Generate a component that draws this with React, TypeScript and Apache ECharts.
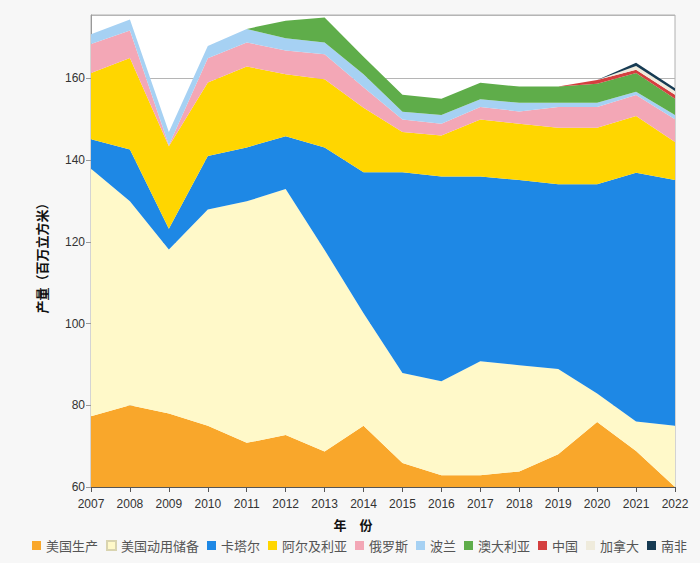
import React, { useEffect, useRef } from "react";
import * as echarts from "echarts";

const years = ["2007", "2008", "2009", "2010", "2011", "2012", "2013", "2014", "2015", "2016", "2017", "2018", "2019", "2020", "2021", "2022"];

const seriesNames = ["美国生产", "美国动用储备", "卡塔尔", "阿尔及利亚", "俄罗斯", "波兰", "澳大利亚", "中国", "加拿大", "南非"];

const usProduction = [77.3, 80.0, 78.0, 75.0, 70.8, 72.7, 68.7, 75.0, 65.9, 62.9, 62.9, 63.8, 68.0, 75.9, 68.8, 60.0];
const usReserve = [60.6, 49.9, 40.1, 52.9, 59.1, 60.2, 49.3, 27.5, 22.0, 23.0, 27.9, 26.0, 20.9, 7.0, 7.2, 15.0];
const qatar = [7.2, 12.7, 5.1, 13.1, 13.2, 12.9, 25.1, 34.5, 49.1, 50.1, 45.2, 45.3, 45.2, 51.2, 60.9, 60.1];
const algeria = [16.2, 22.4, 20.2, 18.0, 19.8, 15.2, 16.7, 15.8, 9.9, 10.0, 13.9, 13.8, 13.8, 13.8, 13.9, 9.3];
const russia = [7.1, 6.7, 0.2, 5.9, 5.9, 5.8, 6.1, 5.0, 3.0, 2.9, 3.1, 3.0, 5.1, 5.1, 5.1, 5.6];
const poland = [2.4, 2.7, 3.3, 3.0, 3.3, 3.0, 2.9, 3.2, 1.9, 2.1, 1.9, 2.1, 1.0, 1.0, 0.8, 1.0];
const australia = [0, 0, 0, 0, 0, 4.3, 6.1, 4.3, 4.2, 4.0, 4.0, 4.0, 4.0, 4.7, 4.6, 4.0];
const china = [0, 0, 0, 0, 0, 0, 0, 0, 0, 0, 0, 0, 0, 0.9, 0.8, 1.0];
const canada = [0, 0, 0, 0, 0, 0, 0, 0, 0, 0, 0, 0, 0, 0, 0.9, 0.9];
const southAfrica = [0, 0, 0, 0, 0, 0, 0, 0, 0, 0, 0, 0, 0, 0, 0.8, 0.7];

const yTicks = { min: 60, max: 175.5, interval: 20 };

const seriesData = [usProduction, usReserve, qatar, algeria, russia, poland, australia, china, canada, southAfrica];
const colors = ["#f9a72b", "#fff9c9", "#1e88e5", "#ffd600", "#f3a7b6", "#a6d1f3", "#5fad4a", "#d43f3f", "#efebdc", "#173b53"];

export default function App() {
  const ref = useRef<HTMLDivElement>(null);
  useEffect(() => {
    document.body.style.margin = "0";
    document.body.style.background = "#f7f7f7";
    const chart = echarts.init(ref.current as HTMLDivElement, null, { renderer: "svg" });
    chart.setOption({
      animation: false,
      backgroundColor: "#f7f7f7",
      textStyle: { fontFamily: "'Liberation Sans', 'Noto Sans CJK SC', sans-serif" },
      color: colors,
      grid: {
        left: 91,
        right: 25,
        top: 15,
        bottom: 76,
        show: true,
        backgroundColor: "#ffffff",
        borderColor: "#b0b0b0",
        borderWidth: 1,
      },
      legend: {
        data: seriesNames,
        left: 27,
        top: 534,
        icon: "rect",
        itemWidth: 9,
        itemHeight: 9,
        itemGap: 8,
        textStyle: { fontSize: 13, color: "#555", fontFamily: "'Noto Sans CJK SC', sans-serif" },
      },
      xAxis: {
        type: "category",
        data: years,
        boundaryGap: false,
        name: "年　份",
        nameLocation: "middle",
        nameGap: 31,
        nameTextStyle: { fontSize: 13, fontWeight: "bold", color: "#111", fontFamily: "'Noto Sans CJK SC', sans-serif", padding: [0, 60, 0, 0] },
        axisLine: { show: true, lineStyle: { color: "#555" } },
        axisTick: { show: true, length: 5, alignWithLabel: true, lineStyle: { color: "#555" } },
        axisLabel: { color: "#333", fontSize: 12, margin: 11 },
        splitLine: { show: false },
      },
      yAxis: {
        type: "value",
        min: yTicks.min,
        max: yTicks.max,
        interval: yTicks.interval,
        name: "产量（百万立方米）",
        nameLocation: "middle",
        nameGap: 43,
        nameRotate: 90,
        nameTextStyle: { fontSize: 13, fontWeight: "bold", color: "#111", fontFamily: "'Noto Sans CJK SC', sans-serif", padding: [0, 8, 0, 0] },
        axisLine: { show: true, lineStyle: { color: "#999" } },
        axisTick: { show: true, length: 5, lineStyle: { color: "#999" } },
        axisLabel: { color: "#333", fontSize: 12, margin: 6, showMaxLabel: false },
        splitLine: { show: true, lineStyle: { color: "#b5b5b5", width: 1 } },
      },
      series: seriesNames.map((name, i) => ({
        name,
        type: "line",
        stack: "total",
        data: seriesData[i],
        symbol: "none",
        showSymbol: false,
        lineStyle: { width: 0 },
        areaStyle: { opacity: 1, color: colors[i] },
        itemStyle: { color: colors[i], borderColor: i === 1 ? "#d9d4b0" : colors[i], borderWidth: i === 1 ? 1 : 0 },
        emphasis: { disabled: true },
      })),
    });
    return () => chart.dispose();
  }, []);
  return <div ref={ref} style={{ width: 700, height: 563 }} />;
}
